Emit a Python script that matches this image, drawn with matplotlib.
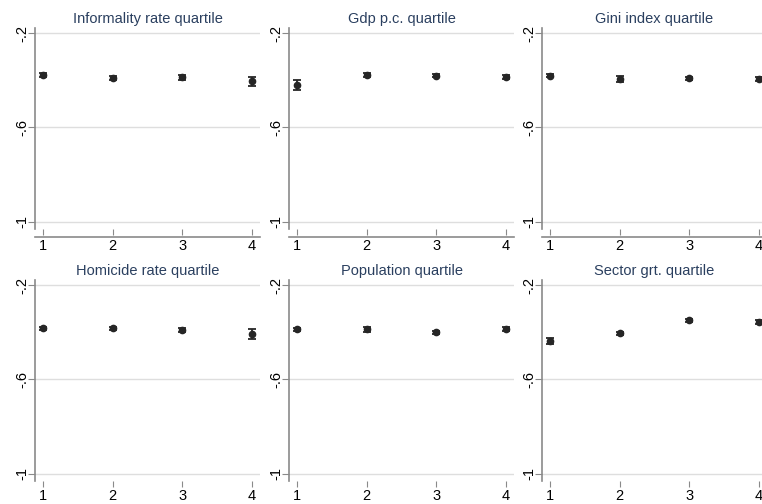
import numpy as np
import matplotlib
matplotlib.use('Agg')
import matplotlib.pyplot as plt
from matplotlib.lines import Line2D

plt.rcParams['font.family'] = ['Liberation Sans', 'DejaVu Sans']

quartiles = [1, 2, 3, 4]
titles = ['Informality rate quartile', 'Gdp p.c. quartile', 'Gini index quartile',
          'Homicide rate quartile', 'Population quartile', 'Sector grt. quartile']

informality = [-0.378, -0.391, -0.388, -0.405]
informality_err = [0.007, 0.008, 0.011, 0.020]
gdp = [-0.420, -0.378, -0.381, -0.386]
gdp_err = [0.021, 0.007, 0.006, 0.007]
gini = [-0.381, -0.394, -0.392, -0.394]
gini_err = [0.007, 0.012, 0.007, 0.009]
homicide = [-0.383, -0.383, -0.391, -0.407]
homicide_err = [0.007, 0.007, 0.010, 0.020]
population = [-0.388, -0.388, -0.400, -0.386]
population_err = [0.008, 0.012, 0.007, 0.009]
sector = [-0.438, -0.405, -0.350, -0.356]
sector_err = [0.013, 0.007, 0.006, 0.007]

values = [informality, gdp, gini, homicide, population, sector]
errors = [informality_err, gdp_err, gini_err, homicide_err, population_err, sector_err]

W, H = 762, 504
fig = plt.figure(figsize=(W / 100, H / 100), dpi=100)

col_left = [34.6, 288.6, 541.6]
col_w = 225.8
row_top = [28.3, 280.3]
row_h = 200.7

title_col = '#2a3f5f'
spine_col = '#8a8a8a'

for i in range(6):
    r, c = divmod(i, 3)
    L = col_left[c]
    T = row_top[r]
    ax = fig.add_axes([L / W, 1 - (T + row_h) / H, col_w / W, row_h / H])
    ax.errorbar(quartiles, values[i], yerr=errors[i], fmt='o', color='#262626',
                markersize=4.5, elinewidth=1.3, capsize=2.8, capthick=1.3)
    ax.set_xlim(0.88, 4.12)
    ax.set_ylim(-1.03, -0.18)
    ax.set_yticks([-1, -0.6, -0.2])
    ax.set_yticklabels(['-1', '-.6', '-.2'], rotation=90, va='center')
    ax.set_xticks(quartiles)
    ax.grid(axis='y', color='#dedede', linewidth=1)
    ax.set_axisbelow(True)
    for s in ['top', 'right', 'bottom']:
        ax.spines[s].set_visible(False)
    ax.spines['left'].set_color(spine_col)
    ax.spines['left'].set_linewidth(1.2)
    ax.tick_params(axis='y', length=5, color=spine_col, labelsize=10.5, pad=-1)
    ax.tick_params(axis='x', length=4, color=spine_col, labelsize=10.5,
                   pad=3 if r == 0 else 2)
    if r == 0:
        # separate x axis line below the top-row panels
        off = 8 / row_h
        ax.add_line(Line2D([0, 1], [-off, -off], transform=ax.transAxes,
                           color=spine_col, linewidth=1.2, clip_on=False))
    ax.set_title(titles[i], fontsize=10.5, color=title_col, pad=4)

fig.savefig('out.png', dpi=100)
